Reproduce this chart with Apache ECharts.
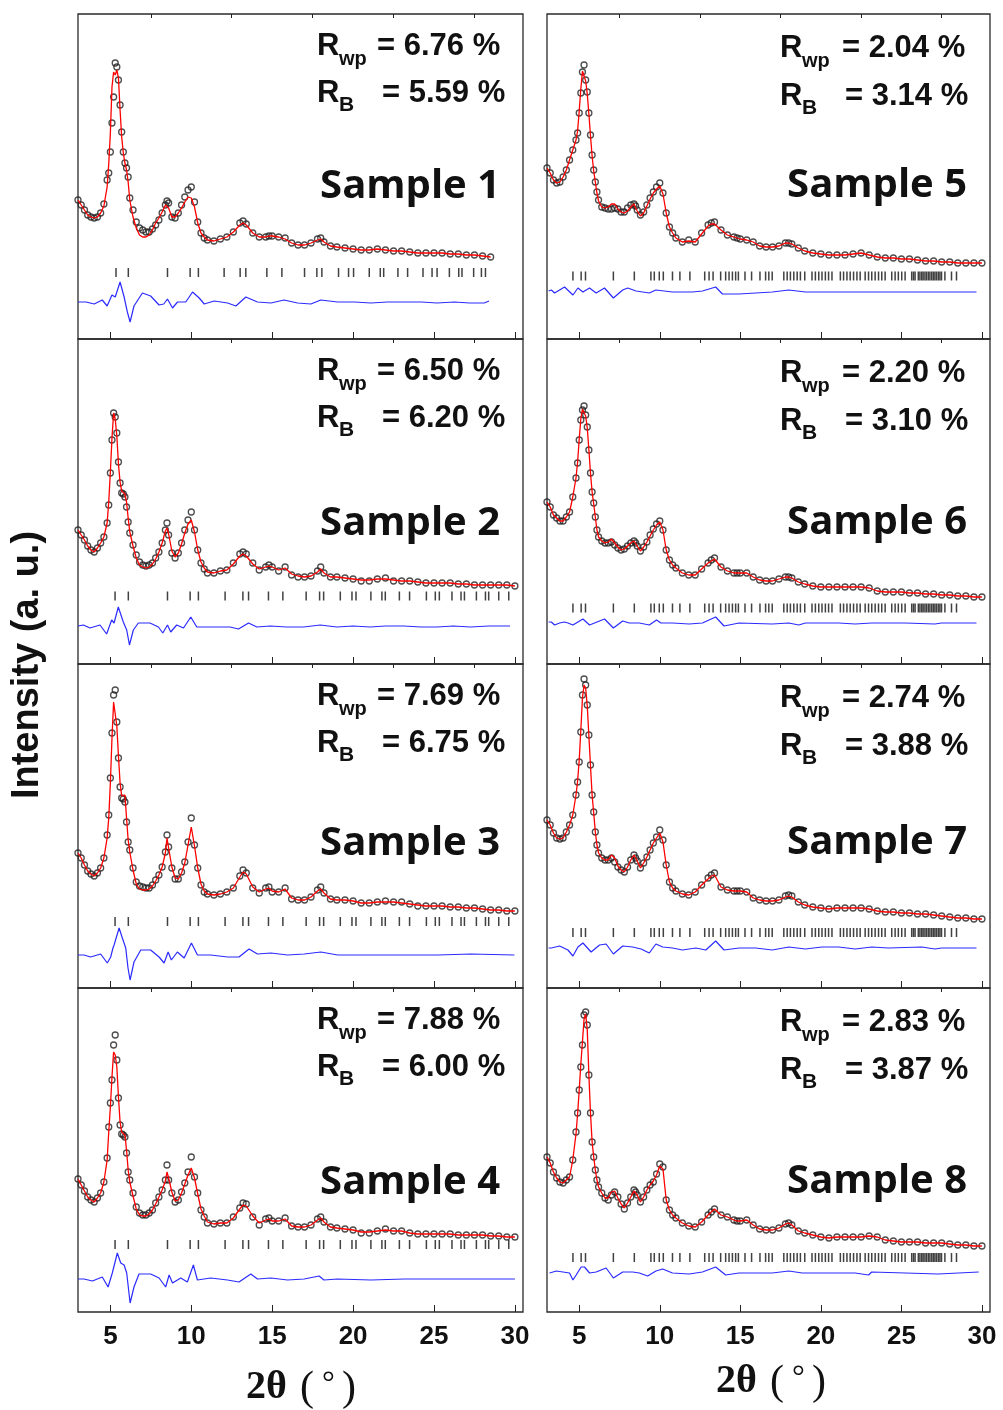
<!DOCTYPE html>
<html><head><meta charset="utf-8">
<script src="https://cdn.jsdelivr.net/npm/echarts@6/dist/echarts.min.js"></script>
<style>html,body{margin:0;padding:0;background:#fff}#c{width:1003px;height:1410px}</style>
</head><body><div id="c"></div>
<script>
// 2-theta grid for observed / calculated profiles
const X = [3.0,3.2,3.4,3.6,3.8,4.0,4.2,4.4,4.6,4.8,
 4.9,5.0,5.1,5.2,5.3,5.4,5.5,5.6,5.7,5.8,5.9,6.0,6.1,
 6.2,6.4,6.6,6.8,7.0,7.2,7.4,7.6,7.8,8.0,8.2,8.4,
 8.5,8.6,8.8,9.0,9.2,9.4,9.6,9.8,10.0,10.2,10.4,10.6,10.8,11.0,
 11.4,11.8,12.2,12.6,13.0,13.2,13.4,13.8,14.2,14.6,
 14.8,15.0,15.4,15.8,16.2,16.6,17.0,17.4,17.8,18.0,18.2,18.6,19.0,
 19.5,20,20.5,21,21.5,22,22.5,23,23.5,24,24.5,25,25.5,26,26.5,27,27.5,28,28.5,29,29.5,30];

const obs1 = [139,134,129,124,122,121,122,126,135,159,
 166,187,216,242,276,272,259,234,207,187,176,171,162,
 141,129,117,111,109,107,107,110,114,119,126,134,
 138,136,122,121,126,134,142,149,152,137,117,106,101,99,
 98,100,102,107,116,118,115,106,102,102,
 103,103,102,101,96,94,94,96,100,101,97,93,92,
 91,90,89,89,90,89,88,88,87,86,86,86,86,85,85,84,84,83,82,null,null,null];
const calc1 = [139,134,129,124,122,121,122,126,133,152,
 175,206,252,267,264,269,261,229,202,186,176,169,157,
 139,122,111,104,102,102,104,109,116,121,127,134,
 135,131,122,122,126,131,137,142,141,132,116,106,102,99,
 98,100,102,107,114,116,114,106,102,102,
 103,103,102,100,96,94,94,96,99,100,97,93,92,
 91,90,89,89,90,89,88,88,87,86,86,86,86,85,85,84,84,83,82,null,null,null];

const obs2 = [134,129,124,118,114,112,116,121,127,141,
 159,191,224,251,247,231,202,181,171,170,167,157,142,
 131,119,109,102,99,98,99,101,106,112,121,134,
 141,129,111,106,111,121,134,144,152,134,114,101,95,91,
 91,93,94,101,110,112,110,101,94,97,
 99,97,93,97,89,87,87,88,93,97,91,87,87,
 86,85,83,83,85,86,83,83,83,82,81,81,81,81,80,80,79,79,79,79,79,78];
const calc2 = [134,129,124,118,114,112,116,121,127,141,
 162,192,226,251,245,228,200,182,173,171,170,162,146,
 132,118,106,99,97,96,97,100,105,112,121,133,
 136,130,113,107,111,120,131,140,144,132,114,102,96,92,
 91,93,94,100,108,110,108,100,95,97,
 98,97,94,96,90,88,87,88,92,95,91,87,87,
 86,85,84,84,85,85,84,83,83,82,81,81,81,81,80,80,79,79,79,79,79,78];

const obs3 = [135,130,123,117,114,112,115,120,130,153,
 173,210,255,293,298,266,230,201,190,189,186,166,146,
 138,120,106,102,101,100,100,103,108,113,121,136,
 153,141,120,109,109,116,126,146,170,143,120,103,96,94,
 93,94,96,100,112,118,115,100,95,100,
 101,96,96,100,89,88,88,91,98,101,95,89,88,
 88,87,85,85,86,87,86,86,84,82,82,82,82,81,81,80,80,79,78,78,77,77];
const calc3 = [135,130,123,117,114,112,115,120,130,150,
 170,205,250,286,286,262,232,205,192,190,193,170,148,
 136,118,104,99,98,98,99,102,107,113,121,135,
 150,140,121,110,109,115,125,143,161,142,120,104,97,94,
 93,94,96,100,111,116,114,101,96,99,
 100,97,96,99,90,88,88,91,97,99,95,89,88,
 88,87,85,85,86,86,86,85,84,83,82,82,82,81,81,80,80,79,78,78,77,77];

const obs4 = [133,127,121,115,112,110,114,119,130,154,
 185,209,232,267,277,252,214,187,178,177,175,159,140,
 132,119,105,99,97,97,99,102,109,115,122,132,
 147,132,119,110,112,120,129,140,155,135,119,102,95,89,
 88,89,89,95,104,109,108,95,87,93,
 94,91,91,94,86,85,85,87,93,95,90,85,84,
 83,82,79,79,81,83,81,81,79,78,78,78,78,78,77,77,77,77,76,76,75,75];
const calc4 = [133,127,121,115,112,110,114,119,130,152,
 180,205,235,260,257,245,215,190,180,178,177,162,142,
 130,116,103,97,96,96,98,102,108,115,122,131,
 140,134,120,111,112,119,128,137,144,134,118,103,96,90,
 88,89,89,94,103,107,106,96,89,92,
 93,91,91,93,86,85,85,87,92,94,90,85,84,
 83,82,80,80,81,82,81,81,79,78,78,78,78,78,77,77,77,77,76,76,75,75];

const obs5 = [171,166,159,156,157,162,169,179,189,199,
 206,226,246,267,274,259,247,226,204,184,169,157,147,
 139,132,131,130,130,131,130,127,127,131,134,135,
 133,129,124,127,134,141,147,152,156,146,126,112,106,101,
 97,99,97,106,114,116,117,109,104,102,
 101,100,99,97,93,92,92,93,96,96,95,91,88,
 86,85,84,84,84,85,86,84,82,81,81,80,80,79,78,78,77,77,76,76,76,76];
const calc5 = [171,166,159,156,157,162,169,179,189,199,
 208,228,250,268,270,258,245,225,203,183,168,157,146,
 138,132,131,132,135,135,130,127,126,128,132,135,
 131,128,123,126,133,140,146,150,153,145,126,112,106,101,
 97,98,97,105,113,115,115,109,104,102,
 101,100,99,97,93,92,92,93,96,96,95,91,88,
 86,85,84,84,84,85,86,84,82,81,81,80,80,79,78,78,77,77,76,76,76,76];

const obs6 = [162,157,149,146,143,143,147,152,167,186,
 201,224,244,254,258,249,237,214,191,172,161,147,134,
 127,123,121,121,122,119,116,114,115,118,121,123,
 121,118,113,117,122,129,135,140,143,134,114,104,99,96,
 91,89,89,95,101,104,106,97,93,91,
 91,91,91,87,84,83,83,85,87,87,86,82,80,
 78,77,77,77,77,77,77,76,73,72,72,72,71,71,70,70,69,69,68,68,67,67];
const calc6 = [162,157,149,146,143,143,147,152,167,186,
 202,225,245,255,256,248,236,214,191,172,160,147,134,
 127,123,121,122,125,121,117,114,115,118,121,123,
 121,118,113,117,122,128,134,139,142,134,114,104,99,96,
 91,89,89,95,101,103,105,97,93,91,
 91,91,91,87,84,83,83,85,87,87,86,82,80,
 78,77,77,77,77,77,77,76,73,72,72,72,71,71,70,70,69,69,68,68,67,67];

const obs7 = [168,163,155,150,149,150,156,163,173,193,
 206,226,256,293,309,303,283,253,223,193,176,156,143,
 135,130,128,128,130,126,121,118,116,121,128,133,
 130,127,120,125,131,138,145,151,158,148,123,106,100,97,
 94,93,96,103,110,113,115,101,98,97,
 97,97,96,90,88,87,87,88,92,93,92,86,83,
 81,80,79,80,80,80,80,79,77,76,76,75,75,74,74,73,72,71,70,70,69,69];
const calc7 = [168,163,155,150,149,150,156,163,173,193,
 207,228,258,290,303,300,282,252,222,193,175,156,143,
 135,130,128,128,133,130,122,118,116,121,128,133,
 131,127,120,125,131,138,145,150,155,146,123,106,100,97,
 94,93,96,103,109,112,113,101,98,97,
 97,97,96,90,88,87,87,88,91,92,91,86,83,
 81,80,79,80,80,80,80,79,77,76,76,75,75,74,74,73,72,71,70,70,69,69];

const obs8 = [155,149,140,134,130,129,132,135,152,180,
 199,222,245,267,297,300,287,237,199,170,155,142,132,
 125,119,114,112,117,120,115,108,103,109,115,122,
 120,117,110,115,122,127,130,138,148,145,112,102,97,94,
 89,86,85,90,97,100,103,97,95,92,
 91,91,92,87,83,82,82,84,88,89,87,81,79,
 77,75,74,75,75,75,75,76,75,72,71,70,70,70,69,69,69,68,67,67,66,66];
const calc8 = [155,149,140,134,130,129,132,135,152,178,
 198,222,248,270,293,298,282,237,199,170,155,142,132,
 125,119,114,114,120,121,114,108,104,109,115,121,
 119,117,110,115,122,127,131,137,146,143,112,102,97,94,
 89,86,85,90,97,100,103,97,95,92,
 91,91,92,87,83,82,82,84,88,89,87,81,79,
 77,75,74,75,75,75,75,76,75,72,71,70,70,70,69,69,69,68,67,67,66,66];

// difference curves [2theta, value]
const diff1 = [[3.0,37],[3.5,37],[4.0,35],[4.5,39],[4.8,33],[5.1,44],[5.3,42],[5.6,57],[5.85,42],[6.05,27],[6.22,17],[6.46,33],[6.98,46],[7.49,43],[8.01,34],[8.3,35],[8.53,40],[8.84,31],[9.15,37],[9.66,37],[10.08,47],[10.49,41],[10.8,35],[11.42,38],[12.24,36],[12.76,33],[13.37,42],[14.09,37],[14.92,36],[15.74,39],[16.57,36],[17.39,35],[18.0,39],[19.04,37],[20.07,37],[21.1,36],[22.13,37],[23.2,37],[24.2,37],[25.2,36],[26.26,37],[27.2,36],[28.1,36],[28.4,38]];
const diff2 = [[3.0,38],[3.33,39],[3.74,36],[4.36,39],[4.77,30],[5.08,44],[5.23,41],[5.49,57],[5.8,42],[6.01,34],[6.18,19],[6.42,34],[6.73,41],[7.45,41],[7.97,37],[8.24,31],[8.53,39],[8.73,32],[9.1,39],[9.52,36],[9.97,47],[10.34,37],[11.16,37],[12.4,37],[12.92,35],[13.54,41],[14.05,37],[14.88,38],[15.9,37],[16.94,37],[17.97,39],[19.0,37],[20,38],[21.06,37],[22,38],[23.12,38],[24.2,37],[25.2,37],[26.2,38],[27.25,37],[28.4,38],[29.7,38]];
const diff3 = [[3.0,33],[3.37,33],[3.78,31],[4.4,34],[4.81,25],[5.02,31],[5.16,40],[5.23,43],[5.54,60],[5.74,50],[5.95,40],[6.09,20],[6.22,8],[6.46,26],[6.88,38],[7.49,38],[8.01,31],[8.32,25],[8.57,36],[8.77,28],[9.14,36],[9.56,30],[10.01,45],[10.38,33],[11.2,33],[12.24,31],[12.95,31],[13.57,39],[14.09,34],[14.92,35],[15.95,33],[16.98,34],[18.01,36],[19.04,33],[21.1,33],[23.16,33],[25.23,33],[27.29,34],[29.97,33]];
const diff4 = [[3.0,33],[3.37,33],[3.89,31],[4.5,35],[4.86,25],[5.12,39],[5.43,59],[5.64,49],[5.85,47],[6.01,39],[6.22,9],[6.46,25],[6.77,38],[7.49,38],[8.01,34],[8.42,25],[8.63,37],[8.84,29],[9.35,34],[9.76,30],[10.13,47],[10.38,32],[11.2,34],[12.24,32],[12.95,30],[13.68,38],[14.09,33],[14.92,34],[15.95,32],[16.98,33],[17.9,36],[18.2,32],[19.04,33],[21.1,32],[23.16,33],[25.23,33],[27.29,33],[30.0,33]];
const diff5 = [[3.1,48],[3.27,49],[3.47,46],[3.78,49],[4.09,52],[4.61,44],[4.92,51],[5.23,47],[5.64,51],[6.05,46],[6.57,51],[7.12,41],[7.7,49],[8.01,51],[8.53,48],[9.35,46],[9.76,49],[10.79,47],[12.03,47],[12.65,48],[13.47,52],[13.89,45],[14.92,45],[16.98,47],[18.01,49],[19.04,47],[21.1,47],[23.16,47],[25.23,47],[27.29,47],[29.66,47]];
const diff6 = [[3.1,42],[3.27,42],[3.47,39],[3.78,41],[4.09,42],[4.3,41],[4.61,39],[4.92,42],[5.23,45],[5.64,39],[5.95,41],[6.57,45],[7.12,36],[7.7,43],[8.11,41],[8.73,41],[9.35,39],[9.8,44],[10.07,41],[10.79,41],[11.82,40],[12.65,41],[13.47,47],[13.99,38],[14.92,41],[16.98,40],[18.01,41],[18.63,39],[19.04,41],[21.1,41],[22.13,40],[23.16,41],[25.23,41],[27.08,40],[27.49,41],[29.66,41]];
const diff7 = [[3.1,40],[3.27,40],[3.78,42],[4.3,38],[4.61,32],[4.92,41],[5.23,45],[5.74,36],[6.26,43],[6.67,44],[7.12,34],[7.7,42],[8.32,41],[8.84,39],[9.35,35],[9.76,44],[10.18,41],[10.79,40],[11.41,38],[12.24,40],[12.86,38],[13.47,47],[13.99,38],[14.92,40],[15.95,40],[16.98,38],[18.01,41],[19.04,39],[20.07,41],[21.1,41],[22.13,39],[23.16,41],[24.2,40],[26.26,41],[27.08,39],[27.49,40],[29.66,40]];
const diff8 = [[3.16,39],[3.58,41],[3.99,40],[4.4,39],[4.61,32],[4.81,37],[5.12,45],[5.33,45],[5.64,39],[6.05,40],[6.67,44],[7.12,34],[7.7,40],[8.32,40],[8.73,39],[9.25,36],[9.76,41],[10.18,43],[10.79,39],[11.82,38],[12.65,40],[13.47,45],[14.09,37],[14.92,39],[16.98,39],[18.01,41],[18.84,39],[21.1,39],[22.13,39],[22.96,37],[23.16,40],[25.23,39],[27.29,38],[29.8,40]];

// Bragg reflection positions
const bragg1 = [5.35,6.11,8.53,9.93,10.44,12.03,13.02,13.37,14.67,15.6,17.0,17.76,18.07,19.1,19.72,20.03,21.0,21.68,21.89,22.77,23.37,24.32,24.88,25.19,25.95,26.53,26.73,27.45,27.93,28.18];
const braggL = [5.29,6.11,8.53,9.93,10.44,12.09,13.19,13.54,14.77,15.66,17.1,17.93,18.18,19.21,19.93,20.18,21.1,21.78,21.99,22.86,23.49,24.53,25.08,25.33,26.11,26.67,26.88,27.62,28.18,28.38,29.0,29.62];
const braggR = [4.61,5.12,5.39,7.12,8.42,9.45,9.66,9.97,10.22,10.79,11.25,11.87,12.79,13.06,13.31,13.78,14.09,14.3,14.51,14.71,14.88,15.29,15.7,16.22,16.57,16.77,16.98,17.7,17.91,18.11,18.32,18.53,18.73,19.0,19.45,19.66,19.87,20.07,20.28,20.48,20.69,21.21,21.41,21.62,21.82,22.03,22.24,22.44,22.75,22.96,23.16,23.37,23.58,23.78,23.99,24.4,24.61,24.81,25.02,25.23,25.64,25.75,25.85,26.05,26.15,26.26,26.35,26.46,26.56,26.67,26.77,26.88,26.98,27.08,27.18,27.29,27.39,27.49,27.7,28.11,28.42];
const braggLevel = [66.5,68,66.5,67.5,63,56,55.5,54.5];

const rwp = ['6.76','6.50','7.69','7.88','2.04','2.20','2.74','2.83'];
const rb  = ['5.59','6.20','6.75','6.00','3.14','3.10','3.88','3.87'];
const sampleNames = ['Sample 1','Sample 2','Sample 3','Sample 4','Sample 5','Sample 6','Sample 7','Sample 8'];
const xMajor = [5,10,15,20,25,30];
const xMinor = [7.5,12.5,17.5,22.5,27.5];

const obsAll = [obs1,obs2,obs3,obs4,obs5,obs6,obs7,obs8];
const calcAll = [calc1,calc2,calc3,calc4,calc5,calc6,calc7,calc8];
const diffAll = [diff1,diff2,diff3,diff4,diff5,diff6,diff7,diff8];
const braggAll = [bragg1,braggL,braggL,braggL,braggR,braggR,braggR,braggR];

const rowTop = [14,339,664,988], rowH = [325,325,324,324];
const grids=[], xAxes=[], yAxes=[], series=[], graphics=[];
const pair = (arr) => X.map((x,k)=>[x,arr[k]]).filter(d=>d[1]!=null && d[1]!==undefined);
const SANS = 'Liberation Sans, Arial, sans-serif';

for (let p=0;p<8;p++){
  const col = p<4?0:1, row = p%4;
  const left = col?547:78, width = col?443:445, top=rowTop[row], h=rowH[row];
  grids.push({left, top, width, height:h, show:true, borderColor:'#2a2a2a', borderWidth:1.3, backgroundColor:'transparent'});
  const lab = row===3;
  xAxes.push({gridIndex:p, type:'value', min:3, max:30.5, axisLine:{show:false}, splitLine:{show:false},
    axisTick:{show:true, inside:true, length:7, customValues:xMajor, lineStyle:{color:'#222',width:1}},
    axisLabel:{show:lab, customValues:xMajor, fontSize:26, fontWeight:'bold', fontFamily:SANS, color:'#111', margin:12}});
  xAxes.push({gridIndex:p, type:'value', min:3, max:30.5, axisLine:{show:false}, splitLine:{show:false},
    axisTick:{show:true, inside:true, length:4, customValues:xMinor, lineStyle:{color:'#222',width:1}},
    axisLabel:{show:false, customValues:xMinor}});
  yAxes.push({gridIndex:p, type:'value', min:0, max:h, show:false});
  const xi = 2*p;
  series.push({type:'scatter', xAxisIndex:xi, yAxisIndex:p, data:pair(obsAll[p]), symbol:'circle', symbolSize:6,
    itemStyle:{color:'rgba(255,255,255,0)', borderColor:'#222', borderWidth:1.3}, z:2, silent:true});
  series.push({type:'line', xAxisIndex:xi, yAxisIndex:p, data:pair(calcAll[p]), showSymbol:false, symbol:'none',
    lineStyle:{color:'#ff0000', width:1.3}, z:3, silent:true});
  series.push({type:'line', xAxisIndex:xi, yAxisIndex:p, data:diffAll[p], showSymbol:false, symbol:'none',
    lineStyle:{color:'#2b2bff', width:1.2}, z:3, silent:true});
  series.push({type:'scatter', xAxisIndex:xi, yAxisIndex:p, data:braggAll[p].map(t=>[t,braggLevel[p]]), symbol:'rect',
    symbolSize:[1.5,9], itemStyle:{color:'#111'}, z:2, silent:true});

  // annotations
  const rx = col?780:317, sx = col?802:339, e1 = col?842:377, e2 = col?845:382;
  const l1 = top + (col?34.5:32.5), l2 = top + (col?82.5:79.5);
  const txt = (t,x,y,fs,align,extra) => graphics.push({type:'text', silent:true, style:Object.assign({text:t, x, y, fill:'#111',
     fontSize:fs, fontWeight:'bold', fontFamily:SANS, align:align||'left', verticalAlign:'middle', textAlign:align||'left', textVerticalAlign:'middle'}, extra||{})});
  txt('R', rx, l1, 31); txt('wp', sx, l1+12.5, 20); txt('= '+rwp[p]+' %', e1, l1, 31);
  txt('R', rx, l2, 31); txt('B', sx, l2+11.5, 21); txt('= '+rb[p]+' %', e2, l2, 31);
  const sy = [187,524,844,1183][row] - (col?1:0);
  txt(sampleNames[p], col?967:500, sy, 40, 'right', {fontFamily:'Open Sans, sans-serif'});
}

// axis titles
graphics.push({type:'text', silent:true, x:28, y:665, rotation:Math.PI/2, style:{text:'Intensity (a. u.)', x:0, y:0, fill:'#111', fontSize:38, fontWeight:'bold', fontFamily:SANS, align:'center', verticalAlign:'middle', textAlign:'center', textVerticalAlign:'middle'}});
[[0,0],[470,-6]].forEach(([dx,dy])=>{
  const S='Liberation Serif, Times New Roman, serif';
  graphics.push({type:'text', silent:true, style:{text:'2θ', x:246+dx, y:1388+dy, fill:'#111', fontSize:40, fontWeight:'bold', fontFamily:S, align:'left', verticalAlign:'middle', textAlign:'left', textVerticalAlign:'middle'}});
  graphics.push({type:'text', silent:true, style:{text:'(', x:300+dx, y:1389+dy, fill:'#111', fontSize:42, fontFamily:S, align:'left', verticalAlign:'middle', textAlign:'left', textVerticalAlign:'middle'}});
  graphics.push({type:'text', silent:true, style:{text:'°', x:322+dx, y:1385+dy, fill:'#111', fontSize:32, fontFamily:S, align:'left', verticalAlign:'middle', textAlign:'left', textVerticalAlign:'middle'}});
  graphics.push({type:'text', silent:true, style:{text:')', x:342+dx, y:1389+dy, fill:'#111', fontSize:42, fontFamily:S, align:'left', verticalAlign:'middle', textAlign:'left', textVerticalAlign:'middle'}});
});

const chart = echarts.init(document.getElementById('c'), null, {renderer:'canvas'});
chart.setOption({animation:false, backgroundColor:'#fff', grid:grids, xAxis:xAxes, yAxis:yAxes, series, graphic:graphics});
</script></body></html>
